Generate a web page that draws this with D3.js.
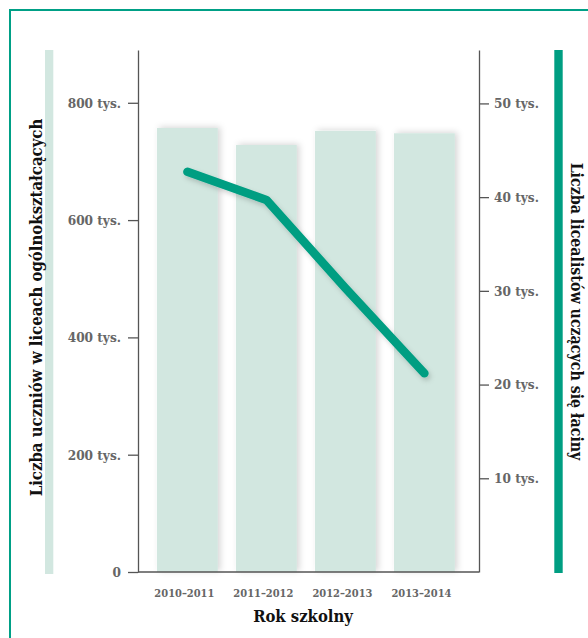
<!DOCTYPE html>
<html>
<head>
<meta charset="utf-8">
<script src="https://cdn.jsdelivr.net/npm/d3@7"></script>
<style>
  html, body { margin: 0; padding: 0; background: #fff; }
  svg { display: block; }
  text { font-family: 'DejaVu Serif Condensed', 'DejaVu Serif', serif; font-stretch: condensed; font-weight: bold; }
</style>
</head>
<body>
<svg id="chart" width="588" height="638"></svg>
<script>
// ---- data ----
const years = ["2010–2011", "2011–2012", "2012–2013", "2013–2014"];
const studentsThousands = [757, 728, 752, 748];      // bars, left axis (tys.)
const latinThousands = [42.7, 39.7, 30.3, 21.2];     // line, right axis (tys.)
const leftTicks = [0, 200, 400, 600, 800];
const rightTicks = [10, 20, 30, 40, 50];
const leftTitle = "Liczba uczniów w liceach ogólnokształcących";
const rightTitle = "Liczba licealistów uczących się łaciny";
const xTitle = "Rok szkolny";

// ---- layout ----
const axisL = 138, axisR = 479, plotTop = 50, plotBottom = 572;
const teal = "#009e82", pale = "#d2e7e0";

const svg = d3.select("#chart");
const defs = svg.append("defs");
defs.append("filter").attr("id", "barShadow")
  .attr("x", "-20%").attr("y", "-5%").attr("width", "140%").attr("height", "110%")
  .append("feDropShadow").attr("dx", 2.5).attr("dy", -1).attr("stdDeviation", 3)
  .attr("flood-color", "#000").attr("flood-opacity", 0.16);
defs.append("filter").attr("id", "lineShadow")
  .attr("x", "-20%").attr("y", "-20%").attr("width", "140%").attr("height", "140%")
  .append("feDropShadow").attr("dx", 2).attr("dy", 3).attr("stdDeviation", 2.5)
  .attr("flood-color", "#000").attr("flood-opacity", 0.18);

// frame
svg.append("rect").attr("x", 10).attr("y", 10).attr("width", 620).attr("height", 660)
  .attr("fill", "none").attr("stroke", "#00a086").attr("stroke-width", 2);

// scales
const x = d3.scaleBand().domain(years).range([146.7, 465.1]).paddingInner(0.23).paddingOuter(0.13);
const yL = d3.scaleLinear().domain([0, 890]).range([plotBottom, plotTop]);
const yR = d3.scaleLinear().domain([0, 55.7]).range([plotBottom, plotTop]);

// decorative side bars
svg.append("rect").attr("x", 45).attr("y", plotTop).attr("width", 8.3).attr("height", 524).attr("fill", pale);
svg.append("rect").attr("x", 554.3).attr("y", plotTop).attr("width", 8.4).attr("height", 523).attr("fill", teal);

// bars
svg.append("g").selectAll("rect").data(years).join("rect")
  .attr("x", d => x(d))
  .attr("width", x.bandwidth())
  .attr("y", (d, i) => yL(studentsThousands[i]))
  .attr("height", (d, i) => yL(0) - yL(studentsThousands[i]))
  .attr("fill", pale)
  .attr("filter", "url(#barShadow)");

// line
const line = d3.line()
  .x((d, i) => x(years[i]) + x.bandwidth() / 2)
  .y(d => yR(d));
svg.append("path").datum(latinThousands)
  .attr("d", line)
  .attr("fill", "none").attr("stroke", teal).attr("stroke-width", 8.5)
  .attr("stroke-linecap", "round").attr("stroke-linejoin", "round")
  .attr("filter", "url(#lineShadow)");

// axes
const gL = svg.append("g").attr("transform", `translate(${axisL},0)`)
  .call(d3.axisLeft(yL).tickValues(leftTicks).tickSize(10).tickSizeOuter(0).tickPadding(7)
    .tickFormat(d => d === 0 ? "0" : d + " tys."));
const gR = svg.append("g").attr("transform", `translate(${axisR},0)`)
  .call(d3.axisRight(yR).tickValues(rightTicks).tickSize(10).tickSizeOuter(0).tickPadding(5)
    .tickFormat(d => d + " tys."));
[gL, gR].forEach(g => {
  g.select(".domain").attr("stroke", "#555").attr("stroke-width", 1.3);
  g.selectAll(".tick line").attr("stroke", "#555").attr("stroke-width", 1.3);
  g.selectAll(".tick text").attr("fill", "#666").attr("font-size", 13.5)
    .style("font-family", "'DejaVu Serif Condensed', 'DejaVu Serif', serif").style("font-weight", "bold");
});
// baseline
svg.append("line").attr("x1", axisL).attr("x2", axisR).attr("y1", plotBottom).attr("y2", plotBottom)
  .attr("stroke", "#555").attr("stroke-width", 1.3);

// x labels
svg.append("g").selectAll("text").data(years).join("text")
  .attr("x", d => x(d) + x.bandwidth() / 2 - 3)
  .attr("y", 597)
  .attr("text-anchor", "middle")
  .attr("font-size", 11)
  .attr("fill", "#666")
  .text(d => d);

// titles
svg.append("text").attr("x", 303).attr("y", 622).attr("text-anchor", "middle")
  .attr("font-size", 16.5).attr("fill", "#111").text(xTitle);
svg.append("text").attr("transform", "translate(42,307.5) rotate(-90)")
  .attr("text-anchor", "middle").attr("font-size", 16.6).attr("fill", "#111").text(leftTitle);
svg.append("text").attr("transform", "translate(570.5,311.5) rotate(90)")
  .attr("text-anchor", "middle").attr("font-size", 15.8).attr("fill", "#111").text(rightTitle);
</script>
</body>
</html>
